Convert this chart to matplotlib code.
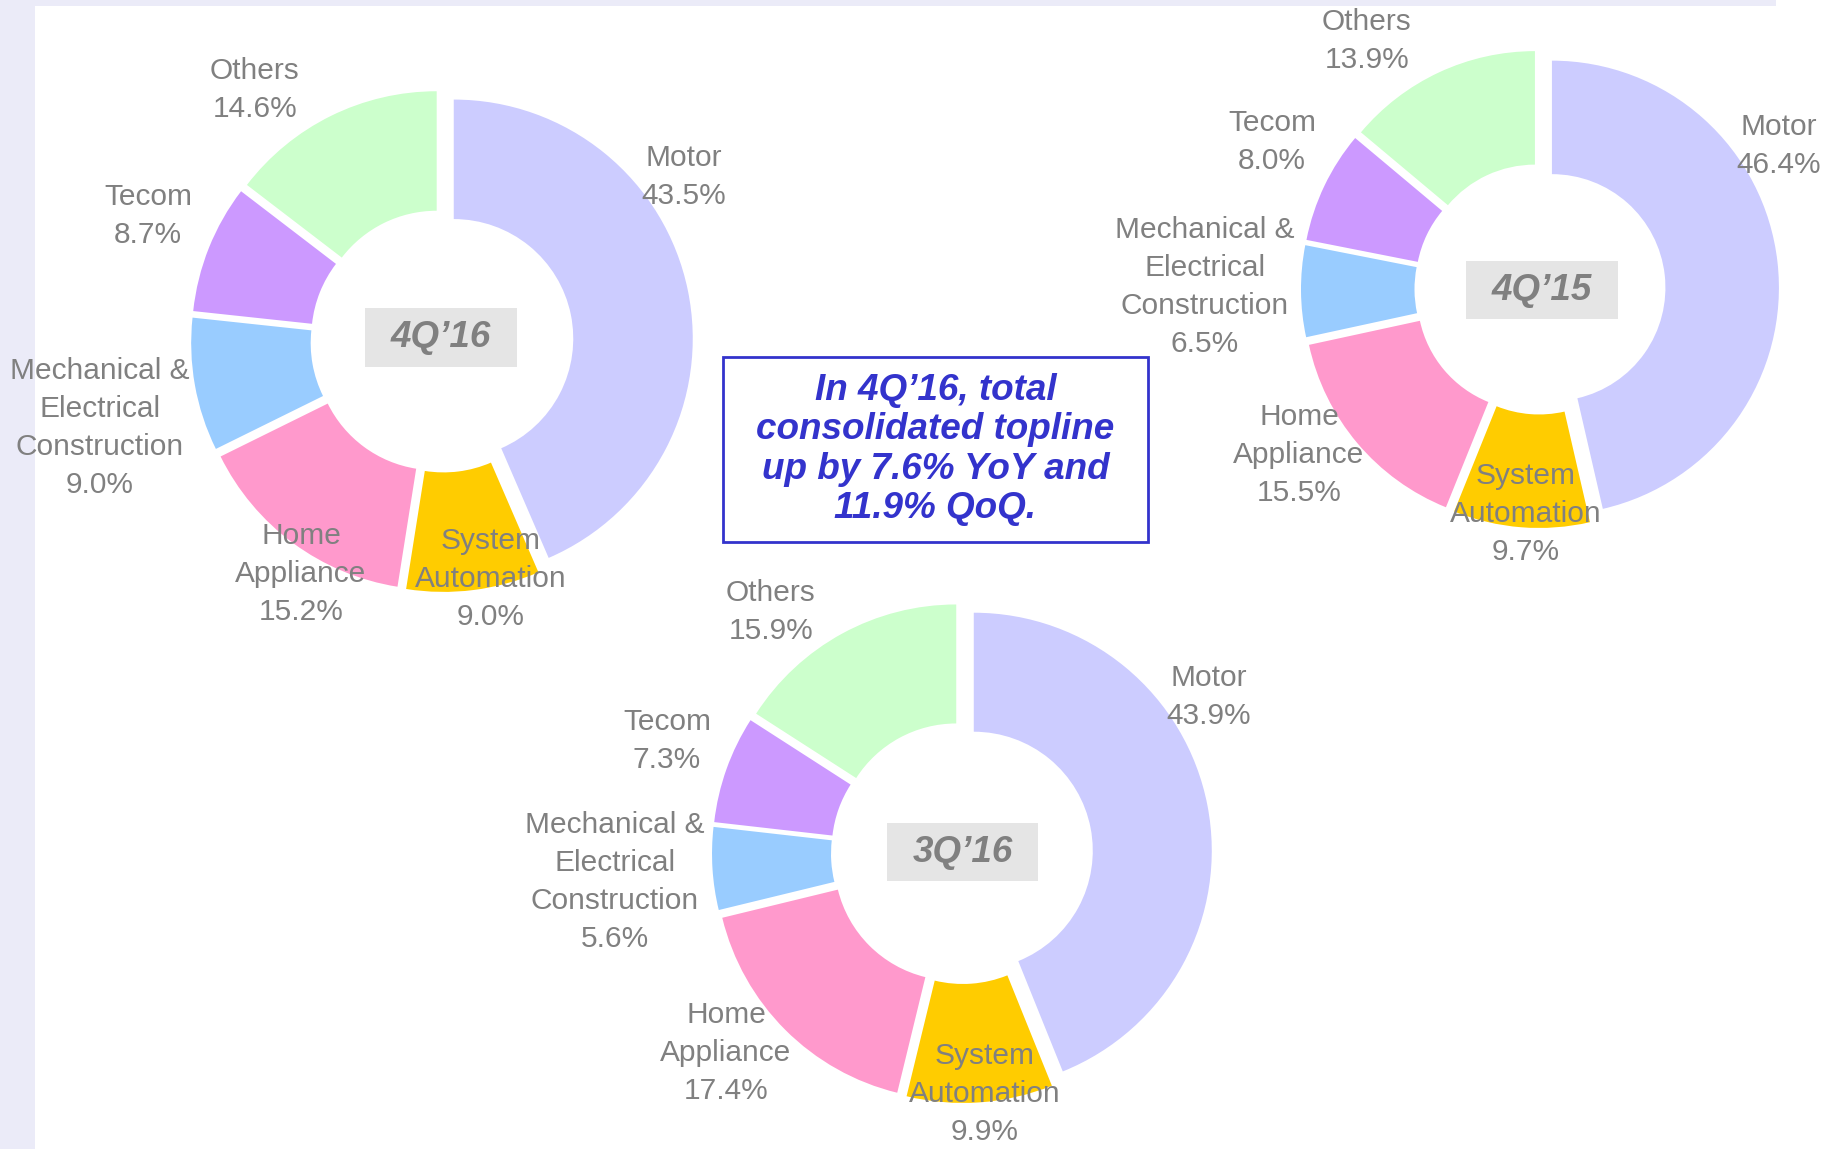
import matplotlib
matplotlib.use("Agg")
import matplotlib.pyplot as plt
from matplotlib.patches import Rectangle

plt.rcParams['font.family'] = ['Liberation Sans', 'DejaVu Sans']

# ---------------- data ----------------
categories = ["Motor", "System\nAutomation", "Home\nAppliance",
              "Mechanical &\nElectrical\nConstruction", "Tecom", "Others"]
share_4q16 = [43.5, 9.0, 15.2, 9.0, 8.7, 14.6]
share_4q15 = [46.4, 9.7, 15.5, 6.5, 8.0, 13.9]
share_3q16 = [43.9, 9.9, 17.4, 5.6, 7.3, 15.9]
period_labels = ["4Q\u201916", "4Q\u201915", "3Q\u201916"]
note_text = "In 4Q\u201916, total\nconsolidated topline\nup by 7.6% YoY and\n11.9% QoQ."

# ---------------- style ----------------
colors = ["#CCCCFF", "#FFCC00", "#FF99CC", "#99CCFF", "#CC99FF", "#CCFFCC"]
GRAY = "#808080"
BLUE = "#3333CC"
W, H = 1825, 1149

fig = plt.figure(figsize=(W / 100, H / 100), dpi=100)
fig.patch.set_facecolor("white")
ax = fig.add_axes([0, 0, 1, 1])

# background strips
ax.add_patch(Rectangle((0, 0), 35, H, facecolor="#EBEBF8", edgecolor="none", zorder=0))
ax.add_patch(Rectangle((0, H - 6), 1776, 6, facecolor="#EBEBF8", edgecolor="none", zorder=0))

def Y(y):
    return H - y

# layout per chart: center (px), radius, label positions (px) for each category
charts = [
    dict(vals=share_4q16, cx=442, cy=341, r=239, box=(365, 308, 517, 367),
         lab=[(684, 177), (491, 579), (301, 574), (100, 428), (148, 216), (255, 90)]),
    dict(vals=share_4q15, cx=1540, cy=289, r=227, box=(1466, 261, 1618, 319),
         lab=[(1779, 146), (1526, 514), (1299, 455), (1205, 287), (1272, 142), (1367, 41)]),
    dict(vals=share_3q16, cx=962, cy=853, r=238, box=(887, 823, 1038, 881),
         lab=[(1209, 697), (985, 1094), (726, 1053), (615, 882), (667, 741), (771, 612)]),
]

for ch, plabel in zip(charts, period_labels):
    r = ch["r"]
    ax.pie(ch["vals"], colors=colors, startangle=90, counterclock=False,
           center=(ch["cx"], Y(ch["cy"])), radius=r,
           explode=[12] * len(ch["vals"]),
           wedgeprops=dict(width=0.5 * r, edgecolor="none", linewidth=0),
           frame=True)
    for cat, v, (lx, ly) in zip(categories, ch["vals"], ch["lab"]):
        ax.text(lx, Y(ly), f"{cat}\n{v:.1f}%", ha="center", va="center",
                fontsize=21.5, color=GRAY, linespacing=1.45, zorder=5)
    x0, y0, x1, y1 = ch["box"]
    ax.add_patch(Rectangle((x0, Y(y1)), x1 - x0, y1 - y0, facecolor="#E5E5E5",
                           edgecolor="none", zorder=4))
    ax.text((x0 + x1) / 2, Y((y0 + y1) / 2), plabel, ha="center", va="center",
            fontsize=26.5, color=GRAY, fontweight="bold", fontstyle="italic", zorder=5)

# note box
ax.add_patch(Rectangle((723, Y(542)), 1148 - 723, 542 - 357, facecolor="white",
                       edgecolor=BLUE, linewidth=2, zorder=4))
ax.text((723 + 1148) / 2, Y((357 + 542) / 2), note_text, ha="center", va="center",
        fontsize=26.6, color=BLUE, fontweight="bold", fontstyle="italic",
        linespacing=1.15, zorder=5)

ax.set_xlim(0, W)
ax.set_ylim(0, H)
ax.set_aspect("equal")
ax.axis("off")

fig.savefig("out.png", dpi=100, facecolor="white")
